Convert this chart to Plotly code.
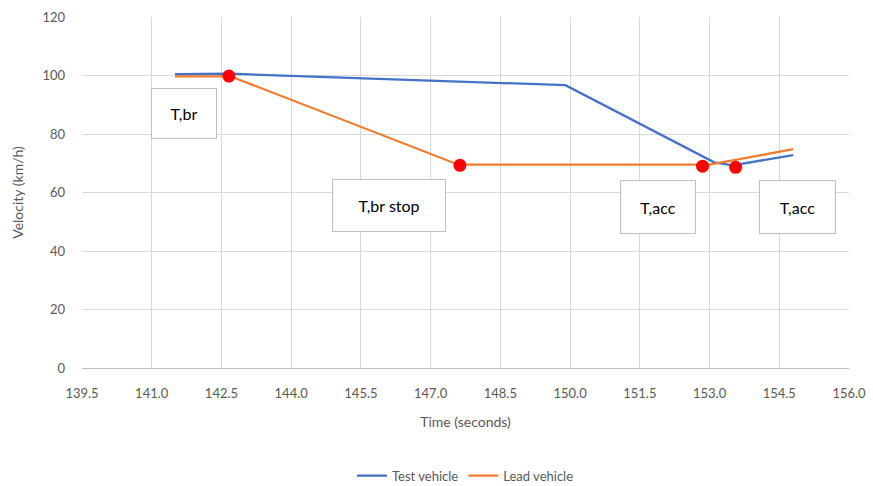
import plotly.graph_objects as go

# Data
test_t = [141.5, 142.7, 149.9, 153.1, 153.5, 154.8]
test_v = [100.5, 100.6, 96.7, 70.3, 69.3, 72.8]
lead_t = [141.5, 142.7, 147.6, 153.0, 154.8]
lead_v = [99.7, 99.7, 69.5, 69.5, 74.8]
event_t = [142.66, 147.63, 152.85, 153.56]
event_v = [99.8, 69.3, 69.0, 68.6]
labels = ["T,br", "T,br stop", "T,acc", "T,acc"]
label_t = [141.69, 146.10, 151.89, 154.89]
label_v = [86.9, 55.5, 54.9, 54.9]
label_w = [64, 112, 74, 75]
label_h = [49, 51, 52, 52]

FONT = "Lato, Arial, sans-serif"
GRAY = "#595959"

fig = go.Figure()
fig.add_trace(go.Scatter(x=test_t, y=test_v, mode="lines", name="Test vehicle",
                         line=dict(color="#4472C4", width=2.25)))
fig.add_trace(go.Scatter(x=lead_t, y=lead_v, mode="lines", name="Lead vehicle",
                         line=dict(color="#ED7D31", width=2.25)))
fig.add_trace(go.Scatter(x=event_t, y=event_v, mode="markers", showlegend=False,
                         marker=dict(color="#FF0000", size=13, line=dict(width=0))))

for txt, tx, ty, w, h in zip(labels, label_t, label_v, label_w, label_h):
    fig.add_annotation(x=tx, y=ty, xref="x", yref="y", text=txt, showarrow=False,
                       width=w, height=h, bgcolor="white", bordercolor="#BFBFBF",
                       borderwidth=1, borderpad=0,
                       font=dict(family=FONT, size=16, color="#000000"))

fig.update_layout(
    width=873, height=486,
    margin=dict(l=82, r=24, t=17, b=118),
    paper_bgcolor="white", plot_bgcolor="white",
    font=dict(family=FONT, color=GRAY, size=12),
    legend=dict(orientation="h", x=0.5, xanchor="center",
                yref="container", y=0.021, yanchor="middle",
                font=dict(size=13, color=GRAY)),
)
fig.update_xaxes(range=[139.5, 156.0], tick0=139.5, dtick=1.5, tickformat=".1f",
                 showgrid=True, gridcolor="#D9D9D9", gridwidth=1,
                 showline=True, linecolor="#BFBFBF", linewidth=1,
                 zeroline=False, ticks="", ticklabelstandoff=13, automargin=False,
                 tickfont=dict(size=13, color=GRAY),
                 title=dict(text="Time (seconds)", font=dict(size=14, color=GRAY), standoff=17))
fig.update_yaxes(range=[0, 120], dtick=20, showgrid=True, gridcolor="#D9D9D9", gridwidth=1,
                 showline=False, zeroline=False, ticks="", ticklabelstandoff=16, automargin=False,
                 tickfont=dict(size=13, color=GRAY),
                 title=dict(text="Velocity (km/h)", font=dict(size=14, color=GRAY), standoff=15))

fig.write_html("out.html", config={"displayModeBar": False},
               post_script="document.body.style.margin='0';")
